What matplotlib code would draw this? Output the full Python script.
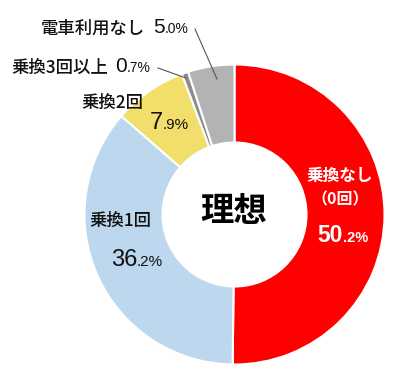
import matplotlib
matplotlib.use("Agg")
import matplotlib.pyplot as plt
from matplotlib.offsetbox import TextArea, HPacker, AnnotationBbox
from matplotlib import font_manager as fm

plt.rcParams['font.family'] = ['Noto Sans CJK JP', 'DejaVu Sans']

labels = ['乗換なし', '乗換1回', '乗換2回', '乗換3回以上', '電車利用なし']
values = [50.2, 36.2, 7.9, 0.7, 5.0]
colors = ['#FF0000', '#BDD7EE', '#F2DE6B', '#8C8C8C', '#B3B3B3']
center_title = '理想'

names = [f.name for f in fm.fontManager.ttflist]
numfont = 'Liberation Sans Narrow' if 'Liberation Sans Narrow' in names else 'Liberation Sans'

fig = plt.figure(figsize=(4.0, 3.81), dpi=100)
ax = fig.add_axes([(234.5 - 150) / 400, (381 - 214.5 - 150) / 381, 300 / 400, 300 / 381])
ax.pie(values, colors=colors, startangle=90, counterclock=False, radius=1.0,
       wedgeprops=dict(width=0.52, edgecolor='white', linewidth=1.5))
ax.set_xlim(-1, 1)
ax.set_ylim(-1, 1)
ax.set_aspect('equal')
ax.axis('off')


def px(x, y):
    return ((x - 234.5) / 150, (214.5 - y) / 150)


ax.text(*px(234, 212), center_title, ha='center', va='center', fontsize=24, fontweight='bold', color='black')


def number_parts(val, color, big, small):
    s = f'{val:.1f}'
    i, d = s.split('.')
    w = 'bold' if color == 'white' else 'normal'
    a = TextArea(i, textprops=dict(fontsize=big, color=color, family=numfont, fontweight=w))
    b = TextArea('.' + d + '%', textprops=dict(fontsize=small, color=color, family=numfont, fontweight=w))
    return [a, b]


def place(children, x, y, ha=0.5):
    box = HPacker(children=children, align='baseline', pad=0, sep=0)
    ab = AnnotationBbox(box, px(x, y), xycoords='data', frameon=False, box_alignment=(ha, 0.5),
                        pad=0, annotation_clip=False)
    ax.add_artist(ab)


lab = dict(fontsize=12.5, fontweight='medium', color='#111111')

# 乗換なし
ax.text(*px(340, 176), labels[0], ha='center', va='center', fontsize=12, fontweight='bold', color='white')
ax.text(*px(340, 199), '（0回）', ha='center', va='center', fontsize=11.5, fontweight='bold', color='white')
place(number_parts(values[0], 'white', 16.5, 10.5), 343, 236)

# 乗換1回
ax.text(*px(120, 221), labels[1], ha='center', va='center', **lab)
place(number_parts(values[1], '#111111', 17, 11), 137, 260)

# 乗換2回
ax.text(*px(112, 103), labels[2], ha='center', va='center', **lab)
place(number_parts(values[2], '#111111', 17, 11), 169, 123)

# 乗換3回以上
ax.text(*px(11, 68), labels[3], ha='left', va='center', **lab)
place(number_parts(values[3], '#111111', 15, 10), 115, 67, ha=0.0)
ax.plot(*zip(px(158, 68), px(186, 78)), color='#555555', lw=0.8, clip_on=False)

# 電車利用なし
ax.text(*px(41, 29), labels[4], ha='left', va='center', **lab)
place(number_parts(values[4], '#111111', 15, 10), 153, 28, ha=0.0)
ax.plot(*zip(px(195, 29), px(217, 79)), color='#555555', lw=0.8, clip_on=False)

fig.savefig('out.png', dpi=100)
